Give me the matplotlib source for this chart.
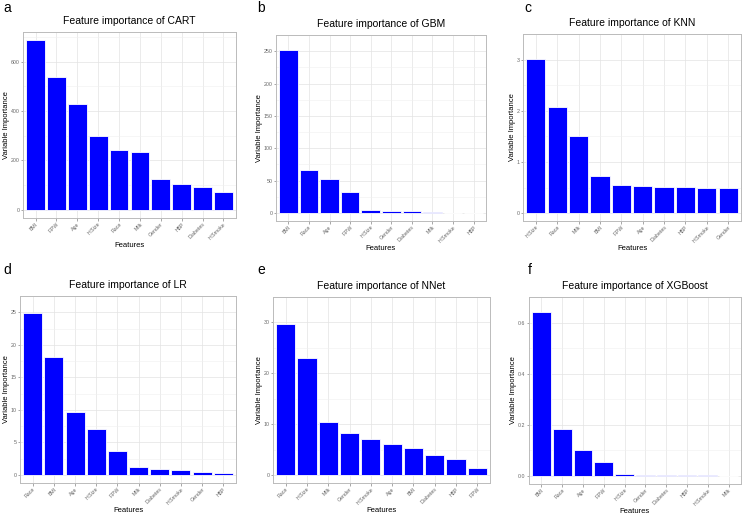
import matplotlib.pyplot as plt
import numpy as np

plt.rcParams['font.family'] = ['Liberation Sans', 'DejaVu Sans']

# datos
cart_feat = ['BMI', 'F.PW', 'Age', 'H.Size', 'Race', 'Milk', 'Gender', 'HBP', 'Diabetes', 'H.Smoke']
cart_vals = [686, 539, 429, 297, 242, 234, 125, 102, 91, 70]

gbm_feat = ['BMI', 'Race', 'Age', 'F.PW', 'H.Size', 'Gender', 'Diabetes', 'Milk', 'H.Smoke', 'HBP']
gbm_vals = [252, 65.7, 52, 31.6, 4.0, 3.0, 2.3, 1.5, 0.5, 0.1]

knn_feat = ['H.Size', 'Race', 'Milk', 'BMI', 'F.PW', 'Age', 'Diabetes', 'HBP', 'H.Smoke', 'Gender']
knn_vals = [3.01, 2.07, 1.50, 0.73, 0.556, 0.54, 0.52, 0.515, 0.503, 0.497]

lr_feat = ['Race', 'BMI', 'Age', 'H.Size', 'F.PW', 'Milk', 'Diabetes', 'H.Smoke', 'Gender', 'HBP']
lr_vals = [24.9, 18.1, 9.7, 7.1, 3.66, 1.22, 0.98, 0.68, 0.49, 0.3]

nnet_feat = ['Race', 'H.Size', 'Milk', 'Gender', 'H.Smoke', 'Age', 'BMI', 'Diabetes', 'HBP', 'F.PW']
nnet_vals = [29.8, 23.06, 10.5, 8.35, 7.24, 6.19, 5.37, 4.09, 3.2, 1.52]

xgb_feat = ['BMI', 'Race', 'Age', 'F.PW', 'H.Size', 'Gender', 'Diabetes', 'HBP', 'H.Smoke', 'Milk']
xgb_vals = [0.64, 0.184, 0.101, 0.055, 0.0075, 0.004, 0.004, 0.002, 0.0015, 0.001]

W, H = 743, 517

# (letra, modelo, features, valores, ticks y, caja del panel en px [x0, y0, x1, y1], posición letra px)
panels = [
    ('a', 'CART', cart_feat, cart_vals, [0, 200, 400, 600], [23, 32, 236, 218], (3, 8)),
    ('b', 'GBM', gbm_feat, gbm_vals, [0, 50, 100, 150, 200, 250], [276, 35, 486, 221], (257, 8)),
    ('c', 'KNN', knn_feat, knn_vals, [0, 1, 2, 3], [523, 34, 741, 221], (524, 8)),
    ('d', 'LR', lr_feat, lr_vals, [0, 5, 10, 15, 20, 25], [20, 296, 236, 483], (3, 270)),
    ('e', 'NNet', nnet_feat, nnet_vals, [0, 10, 20, 30], [273, 297, 490, 483], (257, 270)),
    ('f', 'XGBoost', xgb_feat, xgb_vals, [0.0, 0.2, 0.4, 0.6], [529, 297, 741, 484], (528, 270)),
]

fig = plt.figure(figsize=(W / 100, H / 100), dpi=100)

for letter, name, feats, vals, yticks, box, lpos in panels:
    x0, y0, x1, y1 = box
    ax = fig.add_axes([x0 / W, 1 - y1 / H, (x1 - x0) / W, (y1 - y0) / H])
    x = np.arange(len(feats))
    ax.bar(x, vals, width=0.9, color='blue', edgecolor='white', linewidth=0.6, zorder=3)

    # estilo ggplot theme_bw
    ax.set_xlim(-0.6, len(feats) - 1 + 0.6)
    top = max(vals)
    ax.set_ylim(-0.05 * top, top * 1.05)
    ax.set_xticks(x)
    ax.set_xticklabels(feats, rotation=45, ha='right', rotation_mode='anchor',
                       fontsize=3.8, color='#666666')
    ax.set_yticks(yticks)
    if name == 'XGBoost':
        ax.set_yticklabels(['%.1f' % t for t in yticks])
    ax.tick_params(axis='y', labelsize=3.8, labelcolor='#666666')
    ax.tick_params(length=1.8, width=0.4, color='#666666', pad=0.8)
    minor = [(yticks[i] + yticks[i + 1]) / 2 for i in range(len(yticks) - 1)]
    minor.append(yticks[-1] + (yticks[1] - yticks[0]) / 2)
    ax.set_yticks(minor, minor=True)
    ax.tick_params(which='minor', length=0)
    ax.grid(True, which='major', color='#e3e3e3', linewidth=0.5, zorder=0)
    ax.grid(True, which='minor', axis='y', color='#f0f0f0', linewidth=0.4, zorder=0)
    for s in ax.spines.values():
        s.set_color('#bbbbbb')
        s.set_linewidth(0.7)

    ax.set_title('Feature importance of ' + name, fontsize=7.5, pad=6)
    ax.set_xlabel('Features', fontsize=5.5, labelpad=1)
    ax.set_ylabel('Variable Importance', fontsize=5.5, labelpad=0.5)

    # letra del panel
    fig.text(lpos[0] / W, 1 - lpos[1] / H, letter, fontsize=10, ha='left', va='center')

fig.savefig('out.png', dpi=100)
